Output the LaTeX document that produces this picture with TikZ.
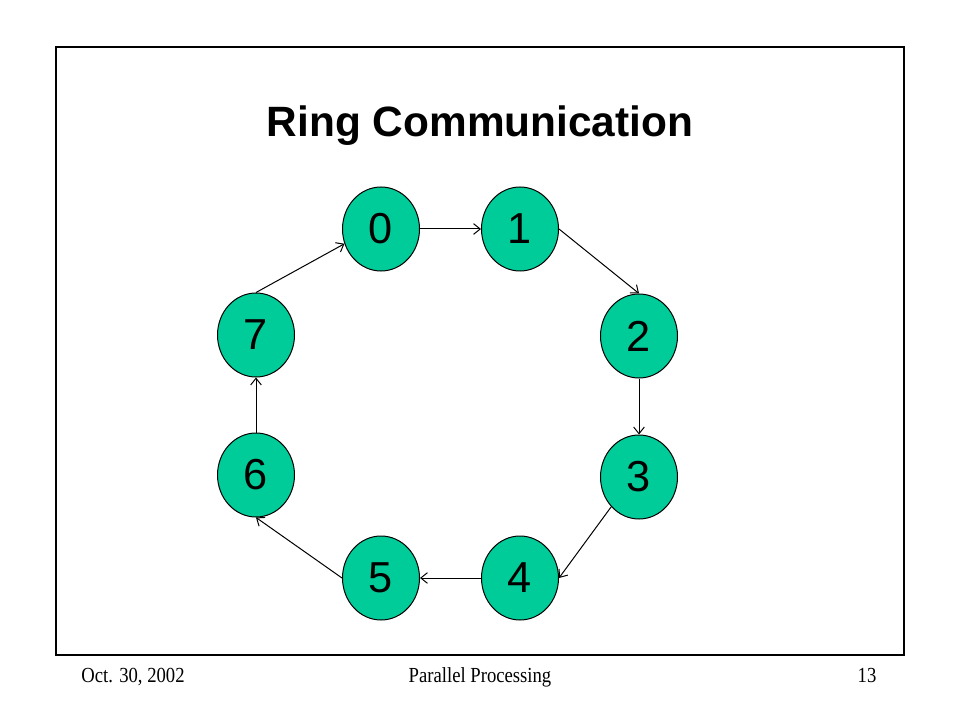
\documentclass[tikz,border=0pt]{standalone}
\usepackage{fontspec}
\usepackage{graphicx}
\setmainfont{Liberation Serif}
\newfontfamily\arialfont{Liberation Sans}
\usetikzlibrary{shapes.geometric,arrows.meta}
\definecolor{ringfill}{HTML}{00CC99}
\newcommand{\foottext}[1]{\scalebox{1}[1.15]{#1}}
\tikzset{
  proc/.style={ellipse, draw=black, line width=0.75pt, fill=ringfill,
    minimum width=57.75pt, minimum height=63pt, inner sep=0pt,
    font=\arialfont\fontsize{32.5}{36}\selectfont},
  link/.style={draw=black, line width=0.75pt, -{Straight Barb[length=5pt,width=8pt]}},
  foot/.style={anchor=base, inner sep=0pt, font=\fontsize{14}{16}\selectfont}
}
\begin{document}
\begin{tikzpicture}[x=0.75pt,y=-0.75pt]
\useasboundingbox (0,0) rectangle (960,720);
\fill[white] (0,0) rectangle (960,720);
\draw[line width=1.5pt] (56,47) rectangle (904,655);
\node[anchor=base, font=\arialfont\bfseries\fontsize{31.8}{36}\selectfont] (title) at (480,137) {Ring Communication};
\node[proc] (n0) at (381,229) {0};
\node[proc] (n1) at (520,229) {1};
\node[proc] (n2) at (639,336) {2};
\node[proc] (n3) at (639,477) {3};
\node[proc] (n4) at (520,578) {4};
\node[proc] (n5) at (381,578) {5};
\node[proc] (n6) at (256,475) {6};
\node[proc] (n7) at (256,335) {7};
\draw[link] (n0.east) -- (n1.west);
\draw[link] (n1.east) -- (n2.north);
\draw[link] (n2.south) -- (n3.north);
\draw[link] (n3.227) -- (n4.east);
\draw[link] (n4.west) -- (n5.east);
\draw[link] (n5.west) -- (n6.south);
\draw[link] (n6.north) -- (n7.south);
\draw[link] (n7.north) -- (n0.202);
\node[foot] (date) at (133,682) {\foottext{Oct. 30,~2002}};
\node[foot] (course) at (480,682) {\foottext{Parallel Processing}};
\node[foot] (page) at (867,682) {\foottext{13}};
\end{tikzpicture}
\end{document}
